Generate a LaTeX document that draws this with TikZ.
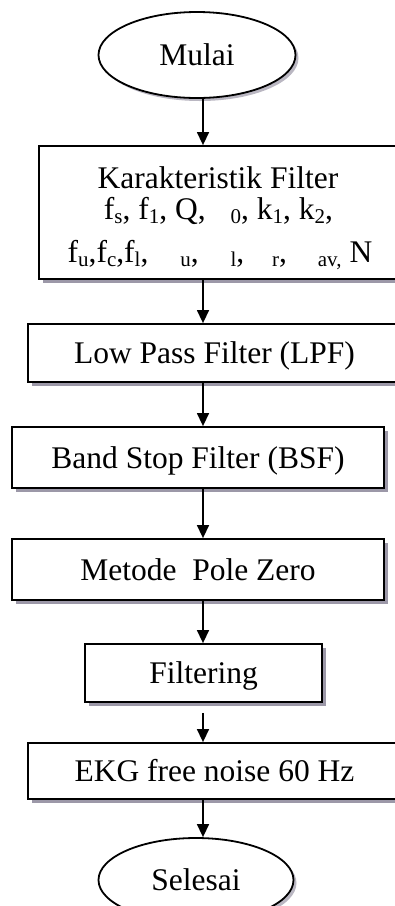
\documentclass[tikz,border=0pt]{standalone}
\usepackage{fontspec}
\setmainfont{Liberation Serif}
\usetikzlibrary{arrows.meta,shapes.geometric,shadows}
\definecolor{shadowc}{HTML}{9C98A8}
\newcommand\sbx[1]{\raisebox{-4.5pt}{\fontsize{21}{21}\selectfont #1}}
\begin{document}
\begin{tikzpicture}[x=1pt,y=-1pt,
  every node/.style={font=\fontsize{31.5}{31}\selectfont, inner sep=0pt},
  procbox/.style={draw=black, line width=1.8pt, fill=white, rectangle,
     text height=21pt, text depth=0pt,
     drop shadow={shadow xshift=4pt, shadow yshift=-4pt, fill=shadowc, opacity=1}},
  term/.style={draw=black, line width=1.8pt, fill=white, ellipse,
     text height=21pt, text depth=0pt,
     drop shadow={shadow xshift=3pt, shadow yshift=-3pt, fill=shadowc, opacity=0.7}},
  arr/.style={line width=1.4pt, -{Triangle[width=12pt,length=13pt]}},
  lbl/.style={anchor=base}
]
\useasboundingbox (0,0) rectangle (395,906);
\clip (0,0) rectangle (395,906);

\node[term, minimum width=197pt, minimum height=86pt] (mulai) at (197,55) {Mulai};

\node[procbox, minimum width=358pt, minimum height=133pt] (kar) at (218,212.5) {};
\node[lbl] (k1) at (218,188) {Karakteristik Filter};
\node[lbl] (k2) at (218.5,219) {f\sbx{s}, f\sbx{1}, Q, \hspace{17pt}\sbx{0}, k\sbx{1}, k\sbx{2},};
\node[lbl] (k3) at (220,262) {f\sbx{u},f\sbx{c},f\sbx{l}, \hspace{24pt}\sbx{u}, \hspace{24pt}\sbx{l}, \hspace{20pt}\sbx{r}, \hspace{23pt}\sbx{av,}\hspace{8pt}N};

\node[procbox, minimum width=373pt, minimum height=58pt] (lpf) at (214.5,353) {Low Pass Filter (LPF)};
\node[procbox, minimum width=372pt, minimum height=61pt] (bsf) at (198,457.5) {Band Stop Filter (BSF)};
\node[procbox, minimum width=372pt, minimum height=61pt] (pz) at (198,569.5) {Metode\ \ Pole Zero};
\node[procbox, minimum width=237pt, minimum height=58pt] (filt) at (203.5,673) {Filtering};
\node[procbox, minimum width=373pt, minimum height=56pt] (ekg) at (214.5,771) {EKG free noise 60 Hz};

\node[term, minimum width=195pt, minimum height=84pt] (sel) at (196,880) {Selesai};

\coordinate (ax) at (203,0);
\draw[arr] (mulai.south -| ax) -- (kar.north -| ax);
\draw[arr] (kar.south -| ax) -- (lpf.north -| ax);
\draw[arr] (lpf.south -| ax) -- (bsf.north -| ax);
\draw[arr] (bsf.south -| ax) -- (pz.north -| ax);
\draw[arr] (pz.south -| ax) -- (filt.north -| ax);
\draw[arr, shorten <=10pt] (filt.south -| ax) -- (ekg.north -| ax);
\draw[arr] (ekg.south -| ax) -- (sel.north -| ax);
\end{tikzpicture}
\end{document}
